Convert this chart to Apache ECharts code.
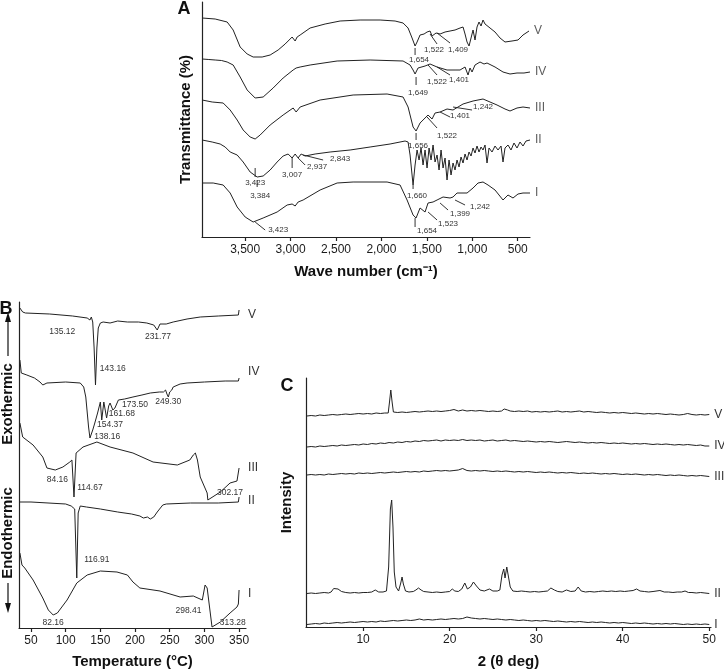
<!DOCTYPE html>
<html><head><meta charset="utf-8">
<script src="https://cdn.jsdelivr.net/npm/echarts@6/dist/echarts.min.js"></script>
<style>html,body{margin:0;padding:0;background:#fff}#c{width:724px;height:671px}</style>
</head><body><div id="c"></div>
<script>
// ---------- Panel A : FTIR (wavenumber, transmittance offset) ----------
const ftirNames = ['V','IV','III','II','I'];
const ftirV = [[3973,219],[3830,218],[3698,215],[3632,207],[3555,190],[3478,183],[3412,180],[3313,180],[3225,182],[3137,187],[3060,193],[2983,200],[2950,196],[2928,200],[2895,202],[2785,209],[2620,213],[2455,216],[2235,217],[2015,217],[1850,216],[1762,214],[1707,209],[1663,199],[1630,191],[1608,195],[1575,202],[1531,203],[1498,205],[1465,206],[1443,201],[1399,204],[1355,203],[1300,205],[1245,206],[1190,207],[1135,209],[1102,210],[1080,203],[1058,195],[1036,191],[1014,199],[992,207],[970,197],[948,210],[926,215],[904,211],[882,217],[860,213],[838,215],[805,209],[750,205],[695,199],[640,195],[563,196],[497,197],[442,202],[376,206]];
const ftirIV = [[3973,178],[3900,177.5],[3830,177],[3760,176.5],[3698,175],[3632,172],[3555,160],[3478,147],[3390,139],[3302,140],[3192,149],[3082,159],[2972,167],[2950,166],[2939,169],[2895,170],[2785,172],[2488,176],[2125,177],[1762,176],[1685,172],[1652,167],[1630,163],[1597,169],[1520,171],[1465,173],[1388,170],[1278,167],[1190,167],[1135,167],[1080,170],[1047,162],[1025,169],[1003,165],[970,172],[915,175],[871,173],[838,174],[750,170],[662,165],[585,163],[508,164],[431,164],[365,165]];
const ftirIII = [[3973,137],[3863,135],[3742,134],[3665,127],[3588,117],[3522,107],[3445,100],[3390,98],[3335,102],[3225,112],[3082,122],[2972,129],[2939,125],[2895,130],[2675,137],[2312,142],[1938,143],[1762,140],[1707,130],[1652,110],[1619,106],[1575,114],[1542,117],[1487,122],[1443,118],[1410,124],[1355,125],[1278,128],[1212,127],[1102,133],[992,136],[882,138],[805,135],[728,132],[640,128],[585,126],[508,129],[442,130],[365,129]];
const ftirII = [[3973,97],[3863,95],[3775,93],[3720,90],[3665,85],[3588,82],[3522,75],[3445,65],[3368,60],[3302,61],[3225,67],[3148,75],[3082,81],[3027,83],[2983,79],[2950,83],[2917,79],[2884,83],[2840,81],[2730,83],[2565,85],[2345,87],[2125,90],[1905,93],[1740,96],[1707,95],[1685,82],[1652,52],[1630,72],[1608,87],[1586,77],[1564,89],[1542,72],[1520,87],[1498,69],[1476,89],[1454,77],[1432,92],[1410,75],[1388,82],[1366,67],[1344,87],[1322,69],[1300,79],[1278,57],[1256,77],[1234,62],[1212,74],[1190,67],[1168,77],[1146,70],[1124,80],[1102,74],[1080,83],[1058,77],[1036,85],[1014,81],[992,89],[970,84],[948,91],[926,85],[904,90],[882,87],[860,92],[838,74],[816,89],[783,85],[750,91],[717,87],[684,91],[662,75],[640,89],[607,92],[574,87],[541,94],[508,89],[475,95],[442,91],[409,96],[365,97]];
const ftirI = [[3973,54],[3852,54],[3742,52],[3665,44],[3588,30],[3500,20],[3412,15],[3302,19],[3148,25],[3038,32],[2983,33],[2950,31],[2917,35],[2862,37],[2675,47],[2488,54],[2312,55],[1938,55],[1795,52],[1718,37],[1652,22],[1619,19],[1575,29],[1520,25],[1487,34],[1432,35],[1388,37],[1322,40],[1245,39],[1212,40],[1168,44],[1058,44],[992,49],[937,54],[882,55],[827,52],[750,47],[662,37],[607,42],[552,39],[497,43],[442,44],[365,44]];
const ftirTicks = [500,1000,1500,2000,2500,3000,3500];
// [lineFromX, lineFromY, lineToX, lineToY, textX, textY, text]
const ftirNotes = [
 [1630,189,1630,182,1586,177,'1,654'],[1465,203,1388,193,1421,187,'1,522'],[1388,204,1245,194,1157,187,'1,409'],
 [1619,160,1619,152,1597,144,'1,649'],[1487,172,1388,162,1388,155,'1,522'],[1388,170,1245,162,1146,157,'1,401'],
 [3390,69,3390,60,3390,54,'3,423'],[1619,104,1619,97,1597,91,'1,656'],[1498,120,1388,109,1278,101,'1,522'],[1355,125,1245,120,1135,121,'1,401'],[1212,130,1003,127,882,130,'1,242'],
 [3368,57,3368,50,3335,41,'3,384'],[2983,80,2983,69,2983,62,'3,007'],[2917,79,2840,72,2708,70,'2,937'],[2862,82,2642,77,2455,78,'2,843'],[1652,52,1652,48,1608,41,'1,660'],
 [3390,15,3280,7,3137,7,'3,423'],[1630,19,1630,10,1498,6,'1,654'],[1487,25,1388,17,1267,13,'1,523'],[1355,34,1267,27,1135,23,'1,399'],[1190,37,1080,32,915,30,'1,242']
];

// ---------- Panel B : DSC (temperature, heat flow offset) ----------
const dscNames = ['V','IV','III','II','I'];
const dscV = [[34,320],[38,316],[42,315],[77,314],[110,312],[131,310],[135,308],[137,311],[139,306],[141,280],[143,243],[145,280],[147,300],[150,305],[154,306],[164,305],[175,307],[189,306],[205,306],[217,305],[227,303],[232,298],[236,304],[245,304],[255,306],[275,309],[294,311],[320,312],[349,313],[350,318]];
const dscIV = [[34,268],[36,255],[44,253],[55,250],[63,246],[67,243],[73,245],[100,246],[121,245],[126,241],[129,231],[133,201],[135,190],[139,198],[142,205],[146,215],[150,226],[152,208],[155,226],[159,210],[162,222],[164,225],[168,218],[171,220],[176,228],[185,229],[197,231],[210,233],[222,235],[235,236],[241,236],[244,238],[246,234],[248,231],[250,236],[253,238],[255,241],[265,244],[275,245],[300,246],[330,247],[349,247],[350,250]];
const dscIII = [[34,205],[38,191],[53,183],[67,171],[73,160],[85,158],[96,161],[106,166],[109,168],[112,131],[115,175],[125,181],[145,186],[164,181],[197,175],[226,166],[261,163],[279,168],[284,173],[287,175],[290,168],[294,151],[304,135],[305,128],[323,136],[337,145],[347,147],[349,147],[350,160]];
const dscII = [[34,126],[50,126],[100,124],[108,122],[113,119],[116,50],[118,115],[121,122],[130,121],[150,119],[175,116],[195,114],[207,112],[212,110],[218,111],[222,109],[227,111],[232,116],[240,123],[245,124],[280,125],[320,125],[349,126],[350,131]];
const dscI = [[34,75],[37,63],[41,60],[53,48],[67,30],[75,18],[82,13],[88,15],[102,28],[116,45],[131,53],[150,57],[174,56],[189,53],[197,46],[207,40],[236,37],[265,31],[284,32],[297,28],[301,43],[304,40],[311,1],[323,6],[337,15],[347,21],[349,24],[350,38]];
const dscTicks = [50,100,150,200,250,300,350];
// [textX, textY, text]
const dscNotes = [[95,296,'135.12'],[168,259,'143.16'],[233,291,'231.77'],[160,191,'138.16'],[164,203,'154.37'],[181,214,'161.68'],[200,223,'173.50'],[248,226,'249.30'],[88,148,'84.16'],[135,140,'114.67'],[337,135,'302.17'],[145,68,'116.91'],[277,17,'298.41'],[341,5,'313.28'],[82,5,'82.16']];

// ---------- Panel C : XRD (2θ, intensity offset) ----------
const xrdNames = ['V','IV','III','II','I'];
const xrdV = [[3.5,211],[4,211.5],[4.5,211],[5,212],[5.5,211.5],[6,212],[6.5,212.5],[7,212],[7.5,212.5],[8,213],[8.5,212.5],[9,213],[9.5,213.5],[10,213],[10.5,213.5],[11,213],[11.5,214],[12,213.5],[12.5,214],[12.9,214],[13.05,225],[13.2,237],[13.35,225],[13.5,215],[14,214.5],[14.5,215],[15,214.5],[15.5,215],[16,215.5],[16.5,215],[17,215.5],[17.5,216],[18,215.5],[18.5,216],[19,215.5],[19.5,216],[20,216.5],[20.5,217.5],[21,216],[21.5,217],[22,216],[22.5,216.5],[23,216],[23.5,216.5],[24,216],[24.5,215.5],[25,216],[25.5,215.5],[26,216],[26.3,218],[26.5,220],[26.7,217],[27,216],[27.5,215.5],[28,216],[28.5,215.5],[29,216],[29.5,215],[30,215.5],[30.5,215],[31,215.5],[31.5,215],[32,215.5],[32.5,216],[33,215],[33.5,215.5],[34,215],[34.5,215.5],[35,216],[35.5,215],[36,215.5],[36.5,215],[37,214.5],[37.5,215],[38,214.5],[38.5,214],[39,214.5],[39.5,214],[40,214.5],[40.5,214],[41,213.5],[41.5,214],[42,213.5],[42.5,213],[43,213.5],[43.5,213],[44,213.5],[44.5,213],[45,212.5],[45.5,213],[46,212.5],[46.5,212],[47,212.5],[47.5,213.5],[48,212.5],[48.5,212],[49,212.5],[49.5,212],[50,212.5]];
const xrdIV = [[3.5,180],[4,180.5],[4.5,180],[5,181],[5.5,180.5],[6,181],[6.5,181.5],[7,181],[7.5,182],[8,181.5],[8.5,182],[9,182.5],[9.5,182],[10,183],[10.5,182.5],[11,183.5],[11.5,183],[12,184],[12.5,183.5],[13,184.5],[13.5,184],[14,185],[14.5,184.5],[15,185.5],[15.5,185],[16,186],[16.5,185.5],[17,186.5],[17.5,186],[18,186.5],[18.5,187],[19,186],[19.5,187],[20,186.5],[20.5,187],[21,186.5],[21.5,187.5],[22,186.5],[22.5,187],[23,186.5],[23.5,187],[24,186],[24.5,186.5],[25,187],[25.5,186],[26,186.5],[26.5,187],[27,186],[27.5,186.5],[28,186],[28.5,185.5],[29,186],[29.5,185.5],[30,185],[30.5,185.5],[31,185],[31.5,185.5],[32,185],[32.5,184.5],[33,185],[33.5,185.5],[34,185],[34.5,184.5],[35,185],[35.5,184.5],[36,184],[36.5,184.5],[37,184],[37.5,184.5],[38,184],[38.5,183.5],[39,184],[39.5,183.5],[40,184],[40.5,183.5],[41,183],[41.5,183.5],[42,183],[42.5,183.5],[43,183],[43.5,182.5],[44,183],[44.5,182.5],[45,183],[45.5,182.5],[46,182],[46.5,182.5],[47,182],[47.5,182.5],[48,182],[48.5,181.5],[49,182],[49.5,181],[50,181]];
const xrdIII = [[3.5,152],[4,152.5],[4.5,152],[5,152.5],[5.5,152],[6,153],[6.5,152.5],[7,153],[7.5,153.5],[8,153],[8.5,153.5],[9,153],[9.5,154],[10,153.5],[10.5,154],[11,153.5],[11.5,154],[12,154.5],[12.5,154],[13,154.5],[13.5,155],[14,154.5],[14.5,155],[15,155.5],[15.5,155],[16,155.5],[16.5,155],[17,156],[17.5,155.5],[18,156],[18.5,156.5],[19,156],[19.5,156.5],[20,156],[20.5,156.5],[21,157],[21.5,158.5],[22,156.5],[22.5,156],[23,156.5],[23.5,156],[24,156.5],[24.5,156],[25,155.5],[25.5,156],[26,155.5],[26.5,156],[27,155.5],[27.5,155],[28,155.5],[28.5,155],[29,155.5],[29.5,155],[30,154.5],[30.5,155],[31,154.5],[31.5,155],[32,154.5],[32.5,154],[33,154.5],[33.5,154],[34,154.5],[34.5,154],[35,153.5],[35.5,154],[36,153.5],[36.5,154],[37,153.5],[37.5,153],[38,153.5],[38.5,153],[39,153.5],[39.5,153],[40,152.5],[40.5,153],[41,152.5],[41.5,153],[42,152.5],[42.5,152],[43,152.5],[43.5,152],[44,152.5],[44.5,152],[45,151.5],[45.5,152],[46,151.5],[46.5,152],[47,151.5],[47.5,151],[48,151.5],[48.5,151],[49,151.5],[49.5,151],[50,150.5]];
const xrdII = [[3.5,33.5],[4,34],[4.5,33.5],[5,34],[5.5,34.5],[6,34],[6.3,35],[6.6,38.5],[6.8,40],[7.1,38],[7.5,35.5],[8,34.5],[8.5,34],[9,34.5],[9.5,34],[10,34.5],[10.5,34.5],[11,35],[11.4,37],[11.8,35],[12.3,35],[12.7,36],[12.95,60],[13.15,118],[13.3,127],[13.45,100],[13.6,55],[13.8,40],[14.1,36],[14.35,44],[14.5,50],[14.65,43],[14.9,36],[15.3,35],[15.8,35.5],[16.1,37],[16.4,39],[16.7,37],[17,35.5],[17.5,35],[18,34.5],[18.5,35],[19,34.5],[19.5,35],[20,35.5],[20.3,38],[20.6,36],[21,35.5],[21.4,38],[21.75,44],[22.05,38],[22.4,40],[22.75,45],[23.1,41],[23.5,37],[24,36],[24.6,38],[25,36],[25.5,36],[25.8,37],[26.05,52],[26.25,58],[26.4,49],[26.6,60],[26.8,50],[27,40],[27.3,36],[27.8,35.5],[28.3,36],[28.8,35.5],[29.3,35],[29.8,35.5],[30.3,35],[30.8,35.5],[31.3,36],[31.7,39],[32.1,37],[32.5,35.5],[33,35],[33.5,37],[34,35.5],[34.5,36],[34.85,40],[35.2,36],[35.7,35],[36.2,35.5],[36.7,35],[37.2,35.5],[37.7,36],[38.2,35.5],[38.7,36],[39.2,35.5],[39.7,36],[40.2,35.5],[40.7,36],[41.2,36.5],[41.6,38],[42,36],[42.5,35.5],[43,35],[43.5,35.5],[44.3,36.5],[44.8,35],[45.3,35],[45.8,34.5],[46.3,35],[46.8,35],[47.2,36],[47.6,34.5],[48,34.5],[48.5,34],[49,34.5],[49.5,34],[50,33.5]];
const xrdI = [[3.5,2.5],[4,3],[4.5,3.5],[5,3],[5.5,4],[6,3.5],[6.5,4],[7,4.5],[7.5,4],[8,4.5],[8.5,5],[9,4.5],[9.5,5],[10,5.5],[10.5,5],[11,5.5],[11.5,5],[12,6],[12.5,5.5],[13,6],[13.5,6.5],[14,6],[14.5,6.5],[15,7],[15.5,6.5],[16,7],[16.5,8],[17,7],[17.5,7.5],[18,7],[18.5,7.5],[19,8],[19.5,7.5],[20,8],[20.5,8.5],[21,8],[21.5,8.5],[22,10],[22.5,9],[23,8.5],[23.5,8],[24,8.5],[24.5,8],[25,7.5],[25.5,8],[26,7.5],[26.5,7],[27,7.5],[27.5,7],[28,6.5],[28.5,7],[29,6.5],[29.5,6],[30,6.5],[30.5,6],[31,6.5],[31.5,6],[32,5.5],[32.5,6],[33,5.5],[33.5,5],[34,5.5],[34.5,5],[35,5.5],[35.5,5],[36,4.5],[36.5,5],[37,4.5],[37.5,5],[38,4.5],[38.5,4],[39,4.5],[39.5,4],[40,4.5],[40.5,4],[41,3.5],[41.5,4],[42,3.5],[42.5,4],[43,3.5],[43.5,3],[44,3.5],[44.5,3],[45,3.5],[45.5,3],[46,3.5],[46.5,3],[47,2.5],[47.5,3],[48,2.5],[48.5,3],[49,2.5],[49.5,3],[50,2.5]];
const xrdTicks = [10,20,30,40,50];

// ---------- chart ----------
const FONT = '"Liberation Sans", Arial, sans-serif';
const INK = '#222';
const chart = echarts.init(document.getElementById('c'), null, {renderer:'canvas'});

function axisX(grid, min, max, ticks, inverse, name, gap, fmt) {
  return {type:'value', gridIndex:grid, min, max, inverse,
    axisLine:{show:true, onZero:false, lineStyle:{color:INK, width:1.2}},
    axisTick:{show:true, inside:false, length:4, customValues:ticks, lineStyle:{color:INK, width:1.2}},
    axisLabel:{show:true, customValues:ticks, margin:7, fontSize:12, color:'#1a1a1a', fontFamily:FONT, formatter:fmt},
    splitLine:{show:false},
    name, nameLocation:'middle', nameGap:gap,
    nameTextStyle:{fontSize:15, fontWeight:'bold', color:'#111', fontFamily:FONT}};
}
function axisY(grid, max, name, gap) {
  return {type:'value', gridIndex:grid, min:0, max,
    axisLine:{show:true, lineStyle:{color:INK, width:1.2}},
    axisTick:{show:false}, axisLabel:{show:false}, splitLine:{show:false},
    name, nameLocation:'middle', nameGap:gap,
    nameTextStyle:{fontSize:15, fontWeight:'bold', color:'#111', fontFamily:FONT}};
}
function curve(name, data, ax, dist, off) {
  const s = {type:'line', name, data, xAxisIndex:ax, yAxisIndex:ax, symbol:'none', smooth:false,
    lineStyle:{color:INK, width:1}, silent:true, clip:false};
  if (dist != null) s.endLabel = {show:true, formatter:'{a}', distance:dist, offset:off || [0,0], fontSize:12, color:'#333', fontFamily:FONT};
  return s;
}

const series = [];
const ftirAll = [ftirV, ftirIV, ftirIII, ftirII, ftirI];
ftirAll.forEach((d,i)=>series.push(curve(ftirNames[i], d, 0, null)));
// curve names at the right-hand end of each FTIR trace (axis is inverted)
series.push({type:'scatter', xAxisIndex:0, yAxisIndex:0, silent:true, symbolSize:0,
  data: ftirAll.map(d=>d[d.length-1]),
  label:{show:true, position:'right', distance:5, fontSize:12, color:'#333', fontFamily:FONT,
    formatter: p => ftirNames[p.dataIndex]}});
const dscOff = [[0,5],[0,-6],[0,0],[0,4],[0,4]];
[dscV, dscIV, dscIII, dscII, dscI].forEach((d,i)=>series.push(curve(dscNames[i], d, 1, 9, dscOff[i])));
[xrdV, xrdIV, xrdIII, xrdII, xrdI].forEach((d,i)=>series.push(curve(xrdNames[i], d, 2, 5)));

series.push({type:'custom', xAxisIndex:0, yAxisIndex:0, silent:true, clip:false,
  data: ftirNotes.map(n=>n.slice(0,6)),
  renderItem:(params, api)=>{
    const n = ftirNotes[params.dataIndex];
    const p1 = api.coord([n[0],n[1]]), p2 = api.coord([n[2],n[3]]), pt = api.coord([n[4],n[5]]);
    return {type:'group', children:[
      {type:'line', shape:{x1:p1[0],y1:p1[1],x2:p2[0],y2:p2[1]}, style:{stroke:'#333', lineWidth:1}},
      {type:'text', x:pt[0], y:pt[1], style:{text:n[6], fill:'#333', font:'8px '+FONT, align:'center', verticalAlign:'middle'}}
    ]};
  }});
series.push({type:'custom', xAxisIndex:1, yAxisIndex:1, silent:true, clip:false,
  data: dscNotes.map(n=>n.slice(0,2)),
  renderItem:(params, api)=>{
    const n = dscNotes[params.dataIndex];
    const pt = api.coord([n[0],n[1]]);
    return {type:'text', x:pt[0], y:pt[1], style:{text:n[2], fill:'#333', font:'8.5px '+FONT, align:'center', verticalAlign:'middle'}};
  }});

const comma = v => Number(v).toLocaleString('en-US');
const option = {
  animation:false, backgroundColor:'#fff',
  grid:[
    {left:202, top:2, width:328, height:235},
    {left:19, top:302, width:227, height:326},
    {left:306, top:378, width:405, height:249}
  ],
  xAxis:[
    axisX(0, 365, 3975, ftirTicks, true, 'Wave number (cm\u207B\u00B9)', 27, comma),
    axisX(1, 32.7, 360, dscTicks, false, 'Temperature (\u00B0C)', 26, v=>String(v)),
    axisX(2, 3.4, 50.2, xrdTicks, false, '2 (\u03B8 deg)', 27, v=>String(v))
  ],
  yAxis:[
    axisY(0, 235, 'Transmittance (%)', 9),
    axisY(1, 326, '', 10),
    axisY(2, 249, 'Intensity', 12)
  ],
  graphic:[
    {type:'text', x:184, y:9, style:{text:'A', font:'bold 18px '+FONT, fill:'#111', align:'center', verticalAlign:'middle'}},
    {type:'text', x:6, y:309, style:{text:'B', font:'bold 18px '+FONT, fill:'#111', align:'center', verticalAlign:'middle'}},
    {type:'text', x:287, y:386, style:{text:'C', font:'bold 18px '+FONT, fill:'#111', align:'center', verticalAlign:'middle'}},
    {type:'text', x:8, y:404, rotation:Math.PI/2, style:{text:'Exothermic', font:'bold 15px '+FONT, fill:'#111', align:'center', verticalAlign:'middle'}},
    {type:'text', x:8, y:533, rotation:Math.PI/2, style:{text:'Endothermic', font:'bold 15px '+FONT, fill:'#111', align:'center', verticalAlign:'middle'}},
    {type:'line', shape:{x1:8,y1:356,x2:8,y2:320}, style:{stroke:'#111', lineWidth:1.2}},
    {type:'polygon', shape:{points:[[8,312],[5,322],[11,322]]}, style:{fill:'#111'}},
    {type:'line', shape:{x1:8,y1:583,x2:8,y2:604}, style:{stroke:'#111', lineWidth:1.2}},
    {type:'polygon', shape:{points:[[8,613],[5,603],[11,603]]}, style:{fill:'#111'}}
  ],
  series
};
chart.setOption(option);
</script></body></html>
